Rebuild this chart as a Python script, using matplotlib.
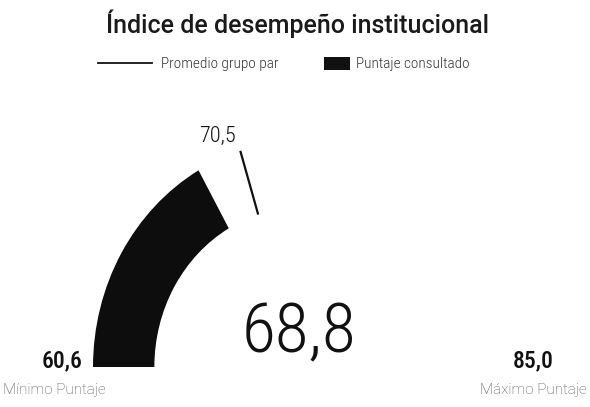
import numpy as np
import matplotlib.pyplot as plt
from matplotlib.patches import Wedge, Patch
from matplotlib.lines import Line2D

# gauge data
min_val = 60.6
max_val = 85.0
score = 68.8        # Puntaje consultado
peer_avg = 70.5     # Promedio grupo par
title = "Índice de desempeño institucional"
min_label = "Mínimo Puntaje"
max_label = "Máximo Puntaje"
legend_labels = ["Promedio grupo par", "Puntaje consultado"]


def fmt(v):
    return f"{v:.1f}".replace(".", ",")


def angle_of(v):
    # 180 deg at min, 0 deg at max
    return 180.0 - 180.0 * (v - min_val) / (max_val - min_val)


cond = ['Roboto Condensed', 'Roboto', 'DejaVu Sans']
plt.rcParams['font.family'] = ['Roboto', 'DejaVu Sans']

W, H = 590, 407
fig = plt.figure(figsize=(W / 100, H / 100), dpi=100)
ax = fig.add_axes([0, 0, 1, 1])
# gauge centre (px from left / top) and radii in px (scan is slightly squashed)
cx, cy = 301.0, 367.0
Rx, Ry = 208.0, 226.0
ax.set_xlim(-cx / Rx, (W - cx) / Rx)
ax.set_ylim(-(H - cy) / Ry, cy / Ry)
ax.axis('off')

r_in = 0.705
ax.add_patch(Wedge((0, 0), 1.0, angle_of(score), 180, width=1 - r_in,
                   facecolor='#0d0d0d', edgecolor='none'))

a = np.deg2rad(angle_of(peer_avg))
ax.plot([r_in * np.cos(a), np.cos(a)], [r_in * np.sin(a), np.sin(a)],
        color='#111111', lw=1.6, solid_capstyle='butt')
ax.annotate(fmt(peer_avg), xy=(np.cos(a), np.sin(a)), xytext=(-23, 9),
            textcoords='offset pixels', ha='center', va='baseline',
            fontsize=16, fontweight='light', family=cond, color='#111111')

ax.text(-0.012, 15 / Ry, fmt(score), ha='center', va='baseline', fontsize=50,
        fontweight='light', family=cond, color='#111111')

ax.text(-1.0 - 10 / Rx, 0, fmt(min_val), ha='right', va='baseline',
        fontsize=17, fontweight='medium', family=cond, color='#111111')
ax.text(1.0 + 4 / Rx, 0, fmt(max_val), ha='left', va='baseline',
        fontsize=17, fontweight='medium', family=cond, color='#111111')
ax.text((3 - cx) / Rx, -23 / Ry, min_label, ha='left', va='center',
        fontsize=11, fontweight='light', color='#555555')
ax.text((587 - cx) / Rx, -23 / Ry, max_label, ha='right', va='center',
        fontsize=11, fontweight='light', color='#555555')

fig.text(298 / W, 1 - 33 / H, title, ha='center', va='baseline', fontsize=18,
         fontweight='medium', color='#1a1a1a')

leg_y = 1 - 64 / H
fs = 11
px = fs * 100 / 72
leg1 = fig.legend([Line2D([], [], color='#111111', lw=1.3)], legend_labels[:1],
                  loc='center left', bbox_to_anchor=(98 / W, leg_y),
                  frameon=False, fontsize=fs, handlelength=54 / px,
                  handletextpad=0.6, borderpad=0, borderaxespad=0,
                  prop={'family': cond, 'size': fs, 'weight': 'light'})
leg2 = fig.legend([Patch(facecolor='#111111', edgecolor='none')], legend_labels[1:],
                  loc='center left', bbox_to_anchor=(324 / W, leg_y),
                  frameon=False, handlelength=26 / px,
                  handleheight=14 / px, handletextpad=0.4, borderpad=0,
                  borderaxespad=0,
                  prop={'family': cond, 'size': fs, 'weight': 'light'})
for t in leg1.get_texts() + leg2.get_texts():
    t.set_color('#333333')

fig.savefig('out.png', dpi=100)
